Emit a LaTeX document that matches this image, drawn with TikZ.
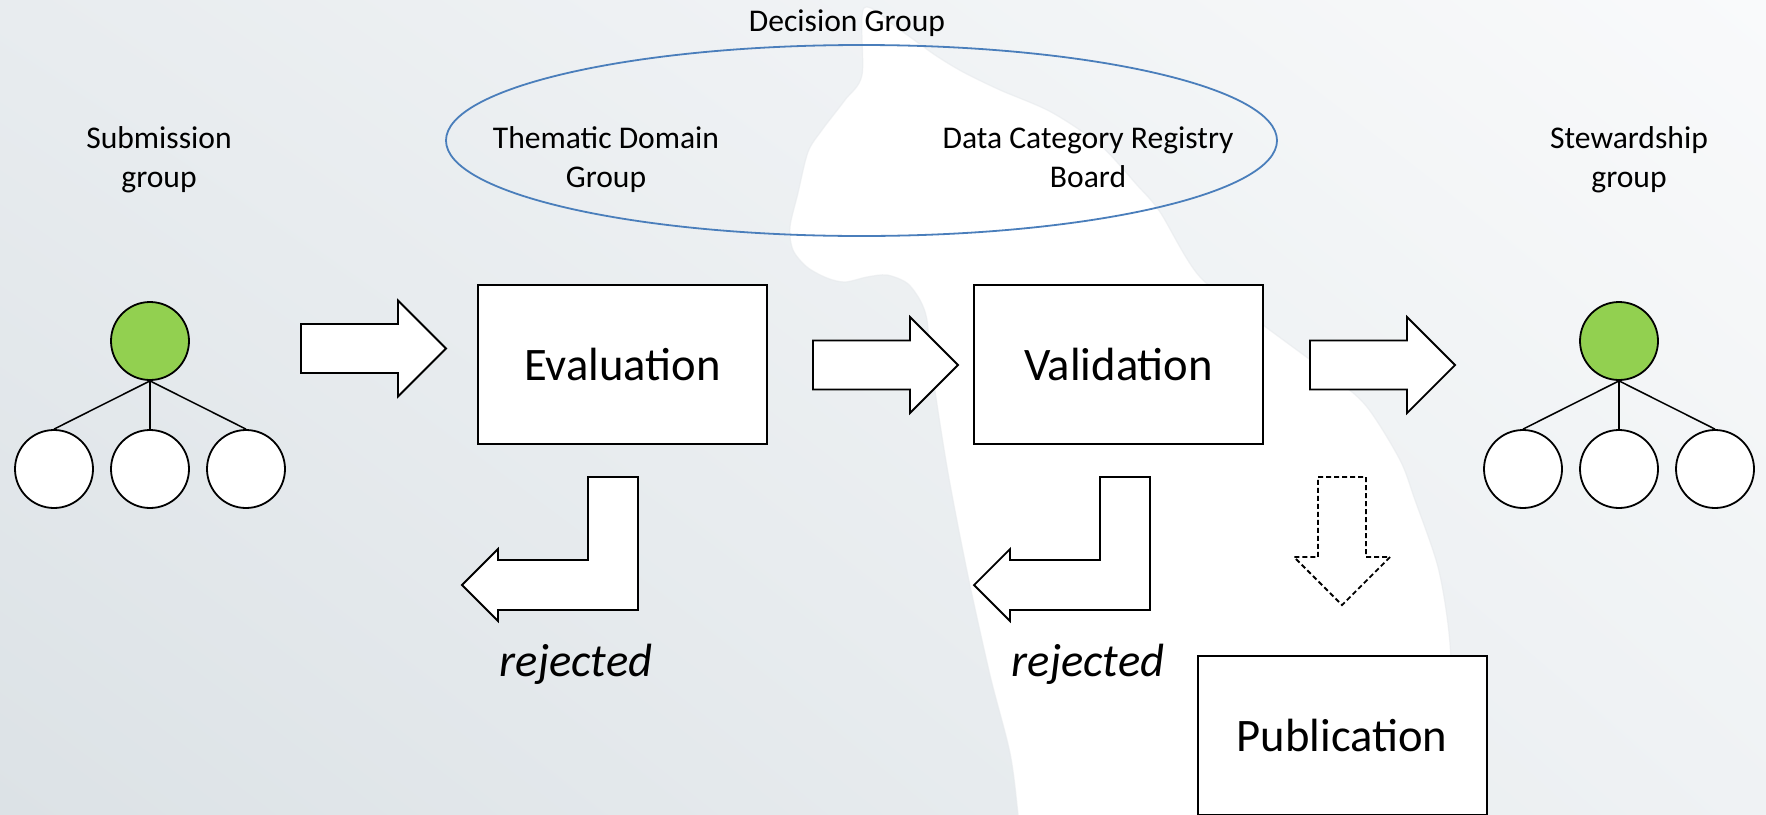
\documentclass[tikz,border=0pt]{standalone}
\usepackage{fontspec}
\setmainfont{Carlito}
\usetikzlibrary{shadings}
\definecolor{bgUL}{HTML}{E8ECEF}
\definecolor{bgUR}{HTML}{F9FAFB}
\definecolor{bgLL}{HTML}{DCE2E6}
\definecolor{bgLR}{HTML}{EFF2F4}
\definecolor{leafgreen}{HTML}{92D050}
\definecolor{ringblue}{HTML}{4A7EBB}
\definecolor{hazeline}{HTML}{E6E9EC}
\tikzset{
  procbox/.style={draw=black, fill=white, line width=1pt, minimum width=144.5pt,
    minimum height=79.5pt, inner sep=0pt, text height=15.5pt, text depth=0pt,
    font=\fontsize{23.3}{28}\selectfont},
  grouplabel/.style={align=center, inner sep=0pt, font=\fontsize{15.8}{19.5}\selectfont},
  verdict/.style={inner sep=0pt, font=\fontsize{23.3}{28}\selectfont\itshape},
  member/.style={circle, draw=black, fill=white, line width=0.9pt, minimum size=39pt, inner sep=0pt},
  leader/.style={member, fill=leafgreen},
  tie/.style={draw=black, line width=0.75pt},
  blockarrow/.style={draw=black, fill=white, line width=0.9pt, line join=miter},
  blockright/.pic={\draw[blockarrow] (0,-24.5) -- (97,-24.5) -- (97,-48) -- (145,0)
    -- (97,48) -- (97,24.5) -- (0,24.5) -- cycle;},
  blockreturn/.pic={\draw[blockarrow] (0,0) -- (50,0) -- (50,133) -- (-90,133)
    -- (-90,144) -- (-126,108) -- (-90,72) -- (-90,83) -- (0,83) -- cycle;},
  blockdown/.pic={\draw[blockarrow, dash pattern=on 2.5pt off 1.5pt] (-24,0) -- (24,0)
    -- (24,80) -- (48,80) -- (0,128) -- (-48,80) -- (-24,80) -- cycle;}
}
\begin{document}
\begin{tikzpicture}[x=0.5pt,y=-0.5pt]
\useasboundingbox (0,0) rectangle (1766,814);
\begin{scope}
  \clip (0,0) rectangle (1766,814);
  % soft backdrop
  \shade[upper left=bgUL, upper right=bgUR, lower left=bgLL, lower right=bgLR]
    (0,0) rectangle (1766,814);
  % pale silhouette behind the flow
  \filldraw[fill=white, draw=hazeline, draw opacity=0.6, line width=0.6pt]
    plot[smooth cycle, tension=0.5] coordinates {
    (864,8) (862,75) (845,100) (822,130) (808,152) (798,193) (790,227) (793,250)
    (807,267) (827,278) (845,282) (867,277) (887,275) (907,283) (920,300)
    (927,320) (931,363) (947,467) (967,571) (990,675) (1010,753) (1018,814)
    (1024,880) (1440,880) (1450,814) (1452,700) (1449,633) (1438,567) (1415,500)
    (1400,460) (1367,407) (1333,377) (1263,325) (1200,277) (1160,212) (1137,185)
    (1100,145) (1051,112) (1000,90) (963,72) (935,55) (900,30)};
\end{scope}

% decision group
\node[anchor=base, inner sep=0pt, font=\fontsize{15.8}{19.5}\selectfont] (dg) at (847,31) {Decision Group};
\draw[ringblue, line width=0.9pt] (861.5,140.5) ellipse [x radius=415.5, y radius=95.5];

% group headings
\node[grouplabel] (sub) at (159,159.7) {\strut Submission\\\strut group};
\node[grouplabel] (tdg) at (606,159.7) {\strut Thematic Domain\\\strut Group};
\node[grouplabel] (dcr) at (1088,159.7) {\strut Data Category Registry\\\strut Board};
\node[grouplabel] (stw) at (1629,159.7) {\strut Stewardship\\\strut group};

% submission group
\node[leader] (s0) at (150,341) {};
\node[member] (s1) at (54,469) {};
\node[member] (s2) at (150,469) {};
\node[member] (s3) at (246,469) {};
\draw[tie] (s0.south) -- (s1.north);
\draw[tie] (s0.south) -- (s2.north);
\draw[tie] (s0.south) -- (s3.north);

% stewardship group
\node[leader] (t0) at (1619,341) {};
\node[member] (t1) at (1523,469) {};
\node[member] (t2) at (1619,469) {};
\node[member] (t3) at (1715,469) {};
\draw[tie] (t0.south) -- (t1.north);
\draw[tie] (t0.south) -- (t2.north);
\draw[tie] (t0.south) -- (t3.north);

% process steps
\node[procbox] (eval) at (622.5,364.5) {Evaluation};
\node[procbox] (valid) at (1118.5,364.5) {Validation};
\node[procbox] (pub) at (1342,735.5) {Publication};

% flow arrows
\pic at (301,348.5) {blockright};
\pic at (813,365) {blockright};
\pic at (1310,365) {blockright};
\pic at (588,477) {blockreturn};
\pic at (1100,477) {blockreturn};
\pic at (1342,477) {blockdown};

% outcomes
\node[verdict, anchor=base] (rej1) at (576,676) {rejected};
\node[verdict, anchor=base] (rej2) at (1088,676) {rejected};
\end{tikzpicture}
\end{document}
